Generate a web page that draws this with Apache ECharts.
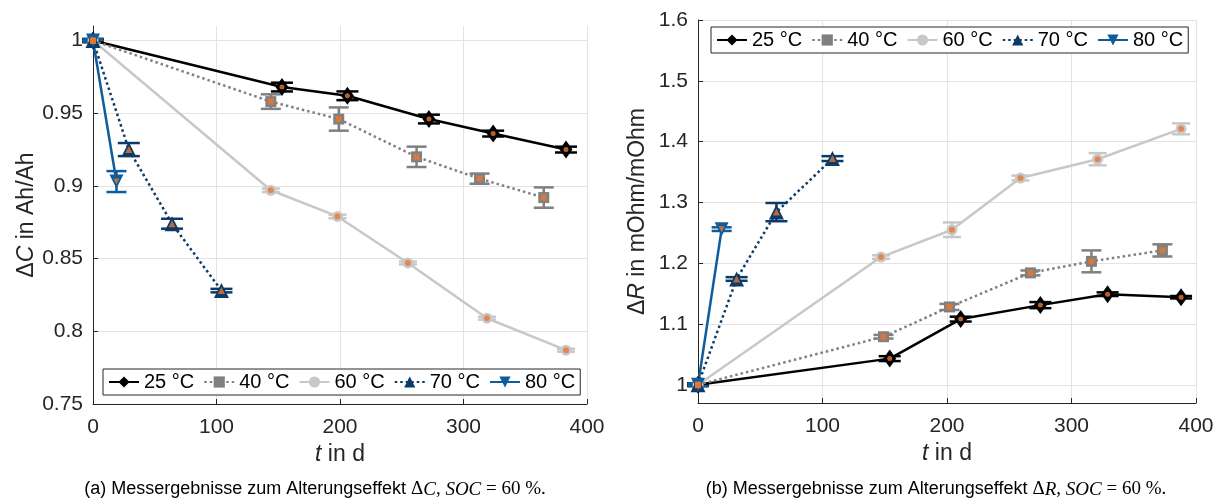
<!DOCTYPE html>
<html><head><meta charset="utf-8">
<script src="https://cdn.jsdelivr.net/npm/echarts@6/dist/echarts.min.js"></script>
<style>html,body{margin:0;padding:0;background:#fff}#c{width:1230px;height:504px}</style>
</head><body><div id="c"></div>
<script>
const seriesNames = ['25 °C', '40 °C', '60 °C', '70 °C', '80 °C'];
const xTicks = [0, 100, 200, 300, 400];

// (a) capacity ΔC in Ah/Ah
const tC25 = [0, 153, 206, 272, 324, 383];
const vC25 = [1, 0.968, 0.962, 0.946, 0.936, 0.925];
const eC25 = [0.001, 0.003, 0.003, 0.003, 0.002, 0.002];
const tC40 = [0, 144, 199, 262, 313, 365];
const vC40 = [1, 0.958, 0.946, 0.920, 0.905, 0.892];
const eC40 = [0.001, 0.005, 0.008, 0.007, 0.0035, 0.007];
const tC60 = [0, 144, 198, 255, 319, 383];
const vC60 = [1, 0.897, 0.879, 0.847, 0.809, 0.787];
const eC60 = [0.001, 0.0012, 0.0012, 0.001, 0.001, 0.001];
const tC70 = [0, 29, 64, 104];
const vC70 = [1, 0.925, 0.874, 0.828];
const eC70 = [0.001, 0.0045, 0.0034, 0.0012];
const tC80 = [0, 19];
const vC80 = [1, 0.903];
const eC80 = [0.001, 0.0072];

// (b) resistance ΔR in mOhm/mOhm
const tR25 = [0, 154, 211, 275, 329, 388];
const vR25 = [1, 1.043, 1.108, 1.131, 1.149, 1.144];
const eR25 = [0.002, 0.004, 0.004, 0.005, 0.003, 0.002];
const tR40 = [0, 149, 202, 267, 316, 373];
const vR40 = [1, 1.079, 1.128, 1.184, 1.203, 1.221];
const eR40 = [0.002, 0.003, 0.005, 0.004, 0.018, 0.01];
const tR60 = [0, 147, 204, 259, 321, 388];
const vR60 = [1, 1.210, 1.255, 1.340, 1.371, 1.421];
const eR60 = [0.001, 0.003, 0.012, 0.004, 0.01, 0.009];
const tR70 = [0, 31, 63, 108];
const vR70 = [1, 1.174, 1.284, 1.372];
const eR70 = [0.002, 0.003, 0.015, 0.004];
const tR80 = [0, 19];
const vR80 = [1, 1.256];
const eR80 = [0.002, 0.003];

const chartA = [[tC25, vC25, eC25], [tC40, vC40, eC40], [tC60, vC60, eC60], [tC70, vC70, eC70], [tC80, vC80, eC80]];
const chartB = [[tR25, vR25, eR25], [tR40, vR40, eR40], [tR60, vR60, eR60], [tR70, vR70, eR70], [tR80, vR80, eR80]];

const ORANGE = '#e8772e';
const styles = [
  {color: '#000000', dash: 'solid', symbol: 'diamond', size: [13, 18], rot: 0, inner: 'circle', innerSize: 5, cap: 22},
  {color: '#808080', dash: [2.5, 3], symbol: 'rect', size: 11, rot: 0, inner: 'rect', innerSize: 6, cap: 20},
  {color: '#c8c8c8', dash: 'solid', symbol: 'circle', size: 11, rot: 0, inner: 'circle', innerSize: 6, cap: 18},
  {color: '#0b3b66', dash: [2.5, 3], symbol: 'triangle', size: 15, rot: 0, inner: 'triangle', innerSize: 7, cap: 22},
  {color: '#0e5c9c', dash: 'solid', symbol: 'triangle', size: 14, rot: 180, inner: 'triangle', innerSize: 6, cap: 20}
];

const AX = '#262626';
const FONT = 'Liberation Sans';

function buildSeries(chart, idx) {
  const out = [];
  chart.forEach((d, k) => {
    const st = styles[k];
    const pts = d[0].map((t, i) => [t, d[1][i]]);
    const errs = d[0].map((t, i) => [t, d[1][i], d[2][i]]);
    out.push({
      type: 'custom', xAxisIndex: idx, yAxisIndex: idx, z: 3, silent: true,
      encode: {x: 0, y: 1},
      data: errs,
      renderItem: function (params, api) {
        const x = api.value(0), y = api.value(1), e = api.value(2);
        const hi = api.coord([x, y + e]);
        const lo = api.coord([x, y - e]);
        const hw = st.cap / 2;
        const s = {stroke: st.color, lineWidth: 2.5};
        return {type: 'group', children: [
          {type: 'line', shape: {x1: hi[0], y1: hi[1], x2: lo[0], y2: lo[1]}, style: s},
          {type: 'line', shape: {x1: hi[0] - hw, y1: hi[1], x2: hi[0] + hw, y2: hi[1]}, style: s},
          {type: 'line', shape: {x1: lo[0] - hw, y1: lo[1], x2: lo[0] + hw, y2: lo[1]}, style: s}
        ]};
      }
    });
    out.push({
      type: 'line', name: seriesNames[k], xAxisIndex: idx, yAxisIndex: idx, z: 4,
      data: pts, clip: false, showAllSymbol: true,
      symbol: st.symbol, symbolSize: st.size, symbolRotate: st.rot,
      itemStyle: {color: st.color, opacity: 1},
      lineStyle: {color: st.color, width: 2.5, type: st.dash},
      emphasis: {disabled: true}, animation: false
    });
    out.push({
      type: 'scatter', xAxisIndex: idx, yAxisIndex: idx, z: 5, silent: true,
      data: pts, symbol: st.inner, symbolSize: st.innerSize, symbolRotate: st.rot,
      itemStyle: {color: ORANGE}, animation: false
    });
  });
  return out;
}

function xAxisOpt(idx) {
  return {
    gridIndex: idx, type: 'value', min: 0, max: 400, interval: 100,
    name: '{i|t} in d', nameLocation: 'middle', nameGap: 36,
    nameTextStyle: {fontFamily: FONT, fontSize: 23, color: AX,
      rich: {i: {fontFamily: FONT, fontSize: 23, fontStyle: 'italic', color: AX}}},
    axisLine: {show: true, lineStyle: {color: AX, width: 1}},
    axisTick: {show: true, inside: true, length: 5, lineStyle: {color: AX}},
    axisLabel: {fontFamily: FONT, fontSize: 21, color: AX, margin: 13},
    splitLine: {show: true, lineStyle: {color: '#e3e3e3', width: 1}}
  };
}

const legendCommon = {
  orient: 'horizontal', data: seriesNames, backgroundColor: '#ffffff',
  borderColor: AX, borderWidth: 1, borderRadius: 0, padding: [3, 5],
  itemWidth: 30, itemHeight: 14, itemGap: 9, selectedMode: false,
  textStyle: {fontFamily: FONT, fontSize: 20, color: '#000'}
};

const captionRich = {
  s: {fontFamily: FONT, fontSize: 18, fontWeight: 'normal', color: '#000'},
  m: {fontFamily: 'Liberation Serif', fontSize: 19, fontWeight: 'normal', color: '#000'},
  mi: {fontFamily: 'Liberation Serif', fontSize: 19, fontWeight: 'normal', fontStyle: 'italic', color: '#000'}
};

const option = {
  backgroundColor: '#ffffff',
  animation: false,
  title: [
    {text: '{s|(a) Messergebnisse zum Alterungseffekt }{m|Δ}{mi|C}{m|, }{mi|SOC}{m| = 60 %.}',
     left: 310, top: 475, textAlign: 'center', textStyle: {fontWeight: 'normal', rich: captionRich}},
    {text: '{s|(b) Messergebnisse zum Alterungseffekt }{m|Δ}{mi|R}{m|, }{mi|SOC}{m| = 60 %.}',
     left: 931, top: 475, textAlign: 'center', textStyle: {fontWeight: 'normal', rich: captionRich}}
  ],
  grid: [
    {left: 93, right: 643, top: 26, bottom: 100},
    {left: 698, right: 34, top: 20, bottom: 101}
  ],
  xAxis: [xAxisOpt(0), xAxisOpt(1)],
  yAxis: [
    {gridIndex: 0, type: 'value', min: 0.75, max: 1.01, interval: 0.05,
     name: 'Δ{i|C} in Ah/Ah', nameLocation: 'middle', nameGap: 55,
     nameTextStyle: {fontFamily: FONT, fontSize: 23, color: AX,
       rich: {i: {fontFamily: FONT, fontSize: 23, fontStyle: 'italic', color: AX}}},
     axisLine: {show: true, lineStyle: {color: AX, width: 1}},
     axisTick: {show: true, inside: true, length: 5, lineStyle: {color: AX}},
     axisLabel: {fontFamily: FONT, fontSize: 21, color: AX, margin: 10, showMaxLabel: false},
     splitLine: {show: true, showMaxLine: false, lineStyle: {color: '#e3e3e3', width: 1}}},
    {gridIndex: 1, type: 'value', min: 0.97, max: 1.6, splitNumber: 6,
     name: 'Δ{i|R} in mOhm/mOhm', nameLocation: 'middle', nameGap: 49,
     nameTextStyle: {fontFamily: FONT, fontSize: 23, color: AX,
       rich: {i: {fontFamily: FONT, fontSize: 23, fontStyle: 'italic', color: AX}}},
     axisLine: {show: true, lineStyle: {color: AX, width: 1}},
     axisTick: {show: true, inside: true, length: 5, lineStyle: {color: AX}},
     axisLabel: {fontFamily: FONT, fontSize: 21, color: AX, margin: 10, showMinLabel: false},
     splitLine: {show: true, showMinLine: false, lineStyle: {color: '#e3e3e3', width: 1}}}
  ],
  legend: [
    Object.assign({}, legendCommon, {left: 103, top: 369}),
    Object.assign({}, legendCommon, {left: 711, top: 27})
  ],
  series: buildSeries(chartA, 0).concat(buildSeries(chartB, 1))
};

const chart = echarts.init(document.getElementById('c'), null, {renderer: 'canvas'});
chart.setOption(option);
</script>
</body></html>
